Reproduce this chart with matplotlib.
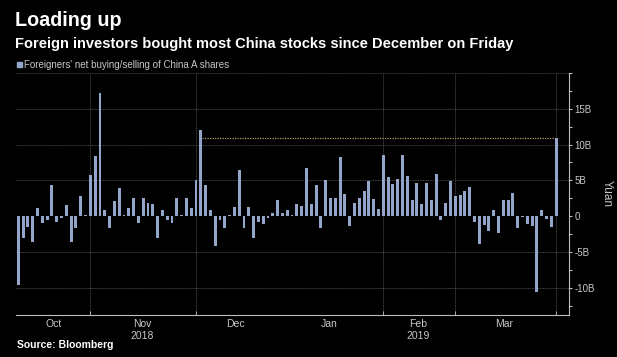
import matplotlib
matplotlib.use("Agg")
import matplotlib.pyplot as plt
import numpy as np

plt.rcParams['font.family'] = ['Liberation Sans', 'DejaVu Sans']

# Net buying/selling of China A shares by foreigners, billion yuan, one value per trading day
net_flow = [
    -9.6, -3.0, -1.5, -3.6, 1.1, -1.0, -0.6, 4.3, -0.8, -0.3,
    1.5, -3.6, -1.6, 2.8, 0.2, 5.7, 8.4, 17.2, 0.9, -1.7,
    2.1, 3.9, 0.1, 1.2, 2.5, -0.9, 2.5, 1.9, 1.7, -3.0,
    0.9, -0.6, -1.0, 2.5, 0.2, 2.5, 1.2, 5.0, 12.1, 4.3,
    0.9, -4.2, -0.5, -1.7, 0.2, 1.25, 6.5, -1.7, 1.25, -3.0,
    -0.8, -1.1, -0.2, 0.5, 2.2, 0.4, 0.8, 0.2, 1.7, 1.4,
    6.7, 1.7, 4.3, -1.6, 5.1, 2.5, 2.6, 8.3, 3.1, -1.4,
    1.8, 2.5, 3.5, 4.9, 2.4, 1.0, 8.6, 5.5, 4.5, 5.2,
    8.6, 5.6, 2.2, 4.7, 1.7, 4.7, 2.3, 5.9, -0.6, 1.9,
    4.9, 2.8, 3.0, 3.5, 4.1, -0.8, -3.9, -1.25, -2.0, 0.9,
    -2.3, 2.3, 2.2, 3.3, -1.6, -0.05, -1.1, -1.4, -10.6, 0.9,
    -0.4, -1.5, 10.9,
]

# first trading day (bar index) of each month, Oct 2018 .. Apr 2019
month_start = [0, 15, 37, 54, 76, 91, 112]
month_labels = ["Oct", "Nov\n2018", "Dec", "Jan", "Feb\n2019", "Mar"]
grid_months = [15, 37, 76, 91, 112]

y_ticks = [-10, -5, 0, 5, 10, 15]
y_tick_labels = ["-10B", "-5B", "0", "5B", "10B", "15B"]

bar_color = '#93a6ca'
text_color = '#c8c8c8'

fig = plt.figure(figsize=(6.17, 3.57), dpi=100, facecolor='black')
ax = fig.add_axes([15.5 / 617, 1 - 315 / 357, 553.5 / 617, 242 / 357])
ax.set_facecolor('black')

x = np.arange(len(net_flow))
ax.bar(x, net_flow, width=0.62, color=bar_color, zorder=3)

# line from the last day back to the last time flows were bigger
last = net_flow[-1]
prev = max(i for i, v in enumerate(net_flow[:-1]) if v > last)
ax.plot([prev + 0.31, len(net_flow) - 1], [last, last], color='#b09a5e',
        lw=0.9, ls=(0, (1, 1)), zorder=2)

ax.set_xlim(-0.6, 114.7)
ax.set_ylim(-13.8, 20)

for v in [-10, -5, 5, 10, 15, 20]:
    ax.axhline(v, color='#5c5c5c', lw=0.6, ls=(0, (1, 1)), zorder=1)
for m in grid_months:
    ax.axvline(m, color='#5c5c5c', lw=0.6, ls=(0, (1, 1)), zorder=1)

ax.spines['left'].set_visible(False)
ax.spines['top'].set_visible(False)
ax.spines['right'].set_color('#bdbdbd')
ax.spines['bottom'].set_color('#bdbdbd')
ax.spines['right'].set_linewidth(0.8)
ax.spines['bottom'].set_linewidth(0.8)

ax.yaxis.tick_right()
ax.set_yticks(y_ticks)
ax.set_yticklabels(y_tick_labels)
ax.set_yticks(np.arange(-12.5, 20.1, 2.5), minor=True)
ax.tick_params(axis='y', which='both', colors='#bdbdbd', labelcolor=text_color,
               labelsize=7, length=2.5, width=0.8, pad=1.5)

centers = [(month_start[i] + month_start[i + 1]) / 2 - 0.25 for i in range(len(month_labels))]
ax.set_xticks(grid_months, minor=True)
ax.set_xticks(centers)
ax.set_xticklabels(month_labels, linespacing=1.2)
ax.tick_params(axis='x', which='major', length=0, labelcolor=text_color,
               labelsize=7.5, pad=3)
ax.tick_params(axis='x', which='minor', length=3, direction='in', color='#bdbdbd')

fig.text(607 / 617, 1 - 193 / 357, "Yuan", rotation=270, color=text_color,
         fontsize=8.5, ha='center', va='center')

fig.text(15 / 617, 1 - 21 / 357, "Loading up", color='white', fontsize=14.2,
         fontweight='bold', va='center', ha='left')
fig.text(15 / 617, 1 - 44 / 357,
         "Foreign investors bought most China stocks since December on Friday",
         color='white', fontsize=10.5, fontweight='bold', va='center', ha='left')
fig.patches.append(plt.Rectangle((17 / 617, 1 - 67 / 357), 5 / 617, 5 / 357,
                                 transform=fig.transFigure, color=bar_color))
fig.text(24 / 617, 1 - 64.5 / 357, "Foreigners' net buying/selling of China A shares",
         color=text_color, fontsize=7.0, va='center', ha='left')
fig.text(17 / 617, 1 - 345 / 357, "Source: Bloomberg", color='white', fontsize=7.5,
         fontweight='bold', va='center', ha='left')

fig.savefig('out.png', dpi=100, facecolor='black')
